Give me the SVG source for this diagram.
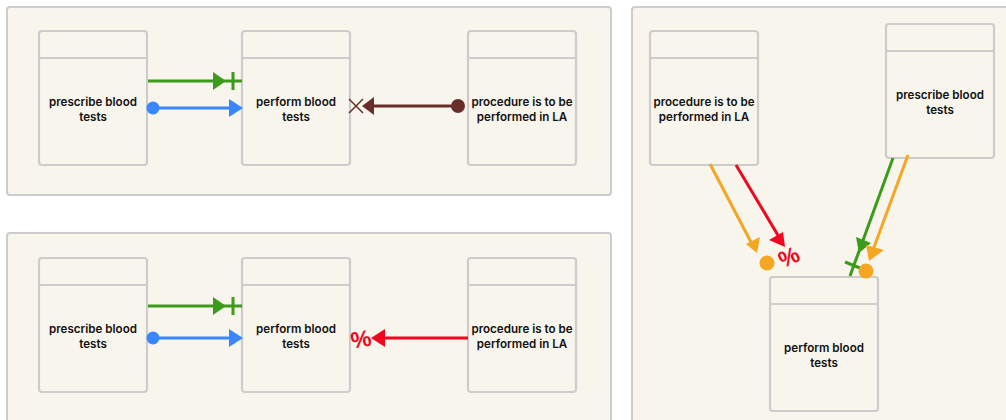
<svg xmlns="http://www.w3.org/2000/svg" width="1006" height="420" viewBox="0 0 1006 420">
<defs>
<style>
.panel{fill:#f8f5ed;stroke:#cccccc;stroke-width:2}
.node rect{fill:#f8f5ed;stroke:#cccccc;stroke-width:2.2}
.node line{stroke:#cccccc;stroke-width:2.2}
.node text{font-family:Inter,"Liberation Sans",sans-serif;font-size:11.6px;font-weight:600;fill:#111111;text-anchor:middle}
.ln{fill:none;stroke-width:3}
.pct{font-family:"Liberation Sans",Arial,sans-serif;font-weight:700;font-size:23px;fill:#f0061e;text-anchor:middle}
</style>
</defs>
<rect width="1006" height="420" fill="#ffffff"/>
<g id="panels">
<rect class="panel" x="7" y="7" width="604" height="188" rx="3"/>
<rect class="panel" x="7" y="233" width="604" height="200" rx="3"/>
<rect class="panel" x="632" y="7" width="390" height="426" rx="3"/>
</g>
<g id="n1" class="node"><rect x="39" y="31" width="108" height="134" rx="3"/><line x1="39" y1="58" x2="147" y2="58"/><text x="93" y="106">prescribe blood</text><text x="93" y="121">tests</text></g>
<g id="n2" class="node"><rect x="242" y="31" width="108" height="134" rx="3"/><line x1="242" y1="58" x2="350" y2="58"/><text x="296" y="106">perform blood</text><text x="296" y="121">tests</text></g>
<g id="n3" class="node"><rect x="468" y="31" width="108" height="134" rx="3"/><line x1="468" y1="58" x2="576" y2="58"/><text x="522" y="106">procedure is to be</text><text x="522" y="121">performed in LA</text></g>
<g id="n4" class="node"><rect x="39" y="258" width="108" height="134" rx="3"/><line x1="39" y1="285" x2="147" y2="285"/><text x="93" y="333">prescribe blood</text><text x="93" y="348">tests</text></g>
<g id="n5" class="node"><rect x="242" y="258" width="108" height="134" rx="3"/><line x1="242" y1="285" x2="350" y2="285"/><text x="296" y="333">perform blood</text><text x="296" y="348">tests</text></g>
<g id="n6" class="node"><rect x="468" y="258" width="108" height="134" rx="3"/><line x1="468" y1="285" x2="576" y2="285"/><text x="522" y="333">procedure is to be</text><text x="522" y="348">performed in LA</text></g>
<g id="n7" class="node"><rect x="650" y="31" width="108" height="134" rx="3"/><line x1="650" y1="58" x2="758" y2="58"/><text x="704" y="106">procedure is to be</text><text x="704" y="121">performed in LA</text></g>
<g id="n8" class="node"><rect x="886" y="24" width="108" height="134" rx="3"/><line x1="886" y1="51" x2="994" y2="51"/><text x="940" y="99">prescribe blood</text><text x="940" y="114">tests</text></g>
<g id="n9" class="node"><rect x="770" y="277" width="108" height="134" rx="3"/><line x1="770" y1="304" x2="878" y2="304"/><text x="824" y="352">perform blood</text><text x="824" y="367">tests</text></g>
<g id="connectors">
<line class="ln" stroke="#3c9b1b" x1="148" y1="81" x2="242" y2="81"/>
<polygon fill="#3c9b1b" points="213,72 226,81 213,90"/>
<line stroke="#3c9b1b" stroke-width="3" x1="233" y1="72" x2="233" y2="90"/>
<circle fill="#3a86ff" cx="153" cy="108" r="6.5"/>
<line class="ln" stroke="#3a86ff" x1="153" y1="108" x2="232" y2="108"/>
<polygon fill="#3a86ff" points="229,99 243,108 229,117"/>
<circle fill="#6a2e2a" cx="458" cy="106" r="7"/>
<line class="ln" stroke="#6a2e2a" x1="458" y1="106" x2="372" y2="106"/>
<polygon fill="#6a2e2a" points="374,97 362,106 374,115"/>
<path d="M349,99 L363,113 M349,113 L363,99" stroke="#6a2e2a" stroke-width="1.5" fill="none"/>
<line class="ln" stroke="#3c9b1b" x1="148" y1="306" x2="242" y2="306"/>
<polygon fill="#3c9b1b" points="213,297 226,306 213,315"/>
<line stroke="#3c9b1b" stroke-width="3" x1="233" y1="297" x2="233" y2="315"/>
<circle fill="#3a86ff" cx="153" cy="338" r="6.5"/>
<line class="ln" stroke="#3a86ff" x1="153" y1="338" x2="232" y2="338"/>
<polygon fill="#3a86ff" points="229,329 243,338 229,347"/>
<line class="ln" stroke="#f0061e" x1="468" y1="338" x2="383" y2="338"/>
<polygon fill="#f0061e" points="385,329 371,338 385,347"/>
<text class="pct" transform="rotate(-10 361 339)" x="361" y="347">%</text>
<line class="ln" stroke="#f5a623" x1="710" y1="164" x2="752" y2="244"/>
<polygon fill="#f5a623" points="746,244 760,237 757,253"/>
<circle fill="#f5a623" cx="767" cy="263" r="7.5"/>
<line class="ln" stroke="#f0061e" x1="736" y1="165" x2="779" y2="237"/>
<polygon fill="#f0061e" points="769,240 783,232 785,247"/>
<text class="pct" transform="rotate(-25 789 257)" x="789" y="265">%</text>
<line class="ln" stroke="#3c9b1b" x1="893" y1="158" x2="850" y2="276"/>
<polygon fill="#3c9b1b" points="856,237 871,243 859,253"/>
<line stroke="#3c9b1b" stroke-width="3" x1="845" y1="262" x2="860" y2="268"/>
<line class="ln" stroke="#f5a623" x1="908" y1="155" x2="873" y2="250"/>
<polygon fill="#f5a623" points="866,245 884,250 869,261"/>
<circle fill="#f5a623" cx="866" cy="271" r="7.5"/>
</g>
</svg>
